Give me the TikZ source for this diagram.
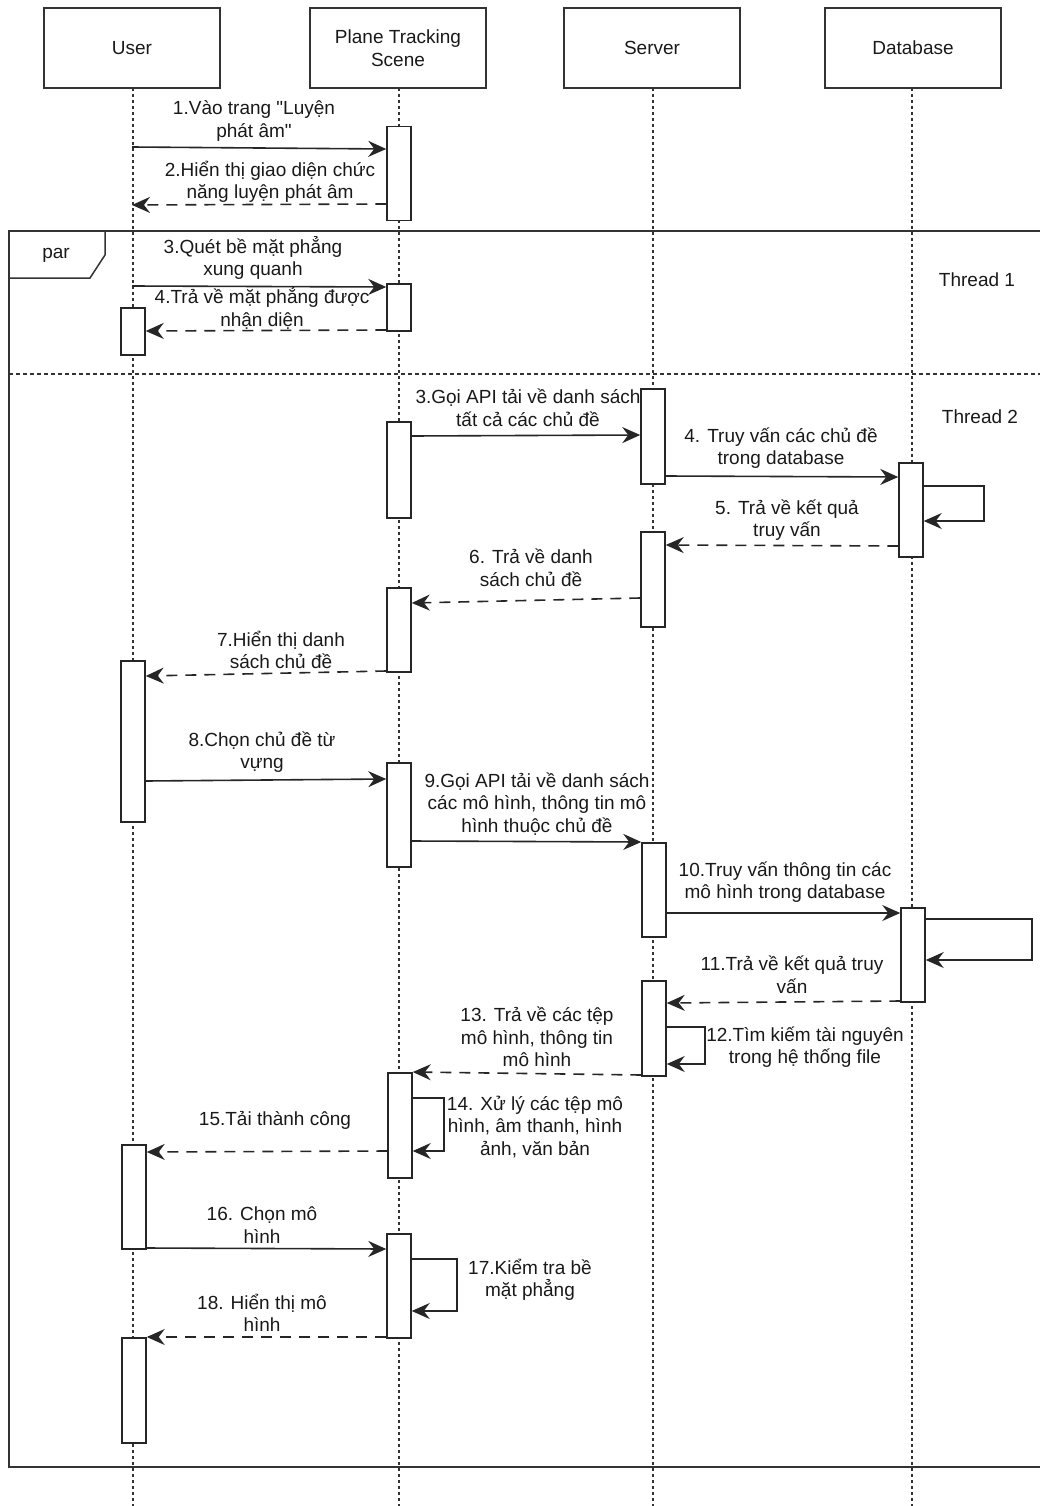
\documentclass[tikz,border=0pt]{standalone}
\usepackage{fontspec}
\setmainfont{Liberation Sans}
% a family without the TeX quote mapping, so that " stays straight
\newfontfamily\labelfont{Liberation Sans}
\usetikzlibrary{arrows.meta}
\begin{document}
\begin{tikzpicture}[x=1pt,y=-1pt,
  every node/.style={font=\labelfont\fontsize{19}{22.5}\selectfont, text=black!90},
  actor/.style={draw=black!80, line width=1.6pt, minimum width=176pt, minimum height=80pt, inner sep=0pt, align=center},
  life/.style={draw=black!80, line width=1.2pt, dash pattern=on 3pt off 3pt},
  actbox/.style={draw=black!85, fill=white, line width=1.5pt, minimum width=24pt, inner sep=0pt, anchor=north},
  msg/.style={draw=black!85, line width=1.6pt, -{Stealth[length=18pt,width=16pt,inset=6pt]}},
  ret/.style={msg, dash pattern=on 11pt off 8pt},
  lbl/.style={align=center, inner sep=0pt},
  frame/.style={draw=black!80, line width=1.5pt}]
\useasboundingbox (0,0) rectangle (1040,1506);

% participants
\node[actor] (user) at (132,48) {User};
\node[actor] (pts)  at (398,48) {Plane Tracking\\Scene};
\node[actor] (srv)  at (652,48) {Server};
\node[actor] (db)   at (913,48) {Database};

% lifelines
\foreach \n/\x in {user/133, pts/399, srv/653, db/912}
  \draw[life] (\x,88) -- (\x,1506);

% par frame
\draw[frame] (1045,231) -- (9,231) -- (9,1467) -- (1045,1467);
\draw[frame] (9,278) -- (90,278) -- (105,255) -- (105,231);
\node[lbl] (parlbl) at (56,255) {par};
\draw[draw=black!80, line width=1.2pt, dash pattern=on 4pt off 3pt] (9,374) -- (1040,374);
\node[lbl] (th1) at (977,280) {Thread 1};
\node[lbl] (th2) at (980,417) {Thread 2};

% activation bars (name, x, top, height)
\newcommand{\actbar}[4]{\node[actbox, minimum height=#4pt] (#1) at (#2,#3) {};}
\actbar{p1}{399}{126}{94}
\actbar{p2}{399}{283}{47}
\actbar{u1}{133}{307}{47}
\actbar{s1}{653}{388}{95}
\actbar{p3}{399}{421}{96}
\actbar{d1}{911}{462}{94}
\actbar{s2}{653}{531}{95}
\actbar{p4}{399}{587}{84}
\actbar{u2}{133}{660}{161}
\actbar{p5}{399}{762}{104}
\actbar{s3}{654}{842}{94}
\actbar{d2}{913}{907}{94}
\actbar{s4}{654}{980}{95}
\actbar{p6}{400}{1072}{105}
\actbar{u3}{134}{1144}{104}
\actbar{p7}{399}{1233}{104}
\actbar{u4}{134}{1337}{105}

% messages
\draw[msg] (user.south |- 0,147) -- (p1.west |- 0,149);
\node[lbl] (m1) at (254,121) {1.Vào trang "Luyện\\phát âm"};
\draw[ret] (p1.west |- 0,204) -- (user.south |- 0,205);
\node[lbl] (m2) at (270,182) {2.Hiển thị giao diện chức\\năng luyện phát âm};

\draw[msg] (user.south |- 0,286) -- (p2.west |- 0,287);
\node[lbl] (m3a) at (253,258) {3.Quét bề mặt phẳng\\xung quanh};
\draw[ret] (p2.west |- 0,330) -- (u1.east |- 0,331);
\node[lbl] (m4a) at (262,308) {4.Trả về mặt phẳng được\\nhận diện};

\draw[msg] (p3.east |- 0,436) -- (s1.west |- 0,435);
\node[lbl] (m3b) at (528,408) {3.Gọi API tải về danh sách\\tất cả các chủ đề};
\draw[msg] (s1.east |- 0,476) -- (d1.west |- 0,477);
\node[lbl] (m4b) at (781,448) {4. Truy vấn các chủ đề\\trong database};
\draw[msg] (d1.east |- 0,486) -- (984,486) |- (d1.east |- 0,521);
\draw[ret] (d1.west |- 0,546) -- (s2.east |- 0,545);
\node[lbl] (m5) at (787,520) {5. Trả về kết quả\\truy vấn};
\draw[ret] (s2.west |- 0,598) -- (p4.east |- 0,603);
\node[lbl] (m6) at (531,568) {6. Trả về danh\\sách chủ đề};
\draw[ret] (p4.west |- 0,671) -- (u2.east |- 0,676);
\node[lbl] (m7) at (281,650) {7.Hiển thị danh\\sách chủ đề};
\draw[msg] (u2.east |- 0,781) -- (p5.west |- 0,779);
\node[lbl] (m8) at (262,752) {8.Chọn chủ đề từ\\vựng};
\draw[msg] (p5.east |- 0,841) -- (s3.west |- 0,842);
\node[lbl] (m9) at (537,804) {9.Gọi API tải về danh sách\\các mô hình, thông tin mô\\hình thuộc chủ đề};
\draw[msg] (s3.east |- 0,913) -- (d2.west |- 0,913);
\node[lbl] (m10) at (785,882) {10.Truy vấn thông tin các\\mô hình trong database};
\draw[msg] (d2.east |- 0,919) -- (1032,919) |- (d2.east |- 0,960);
\draw[ret] (d2.west |- 0,1001) -- (s4.east |- 0,1003);
\node[lbl] (m11) at (792,975) {11.Trả về kết quả truy\\vấn};
\draw[msg] (s4.east |- 0,1027) -- (705,1027) |- (s4.east |- 0,1064);
\node[lbl] (m12) at (805,1047) {12.Tìm kiếm tài nguyên\\trong hệ thống file};
\draw[ret] (s4.west |- 0,1075) -- (p6.east |- 0,1072);
\node[lbl] (m13) at (537,1037) {13. Trả về các tệp\\mô hình, thông tin\\mô hình};
\draw[msg] (p6.east |- 0,1098) -- (444,1098) |- (p6.east |- 0,1151);
\node[lbl] (m14) at (535,1127) {14. Xử lý các tệp mô\\hình, âm thanh, hình\\ảnh, văn bản};
\draw[ret] (p6.west |- 0,1151) -- (u3.east |- 0,1152);
\node[lbl] (m15) at (275,1120) {15.Tải thành công};
\draw[msg] (u3.east |- 0,1248) -- (p7.west |- 0,1249);
\node[lbl] (m16) at (262,1225) {16. Chọn mô\\hình};
\draw[msg] (p7.east |- 0,1259) -- (457,1259) |- (p7.east |- 0,1311);
\node[lbl] (m17) at (530,1280) {17.Kiểm tra bề\\mặt phẳng};
\draw[ret] (p7.west |- 0,1337) -- (u4.east |- 0,1337);
\node[lbl] (m18) at (262,1313) {18. Hiển thị mô\\hình};
\end{tikzpicture}
\end{document}
